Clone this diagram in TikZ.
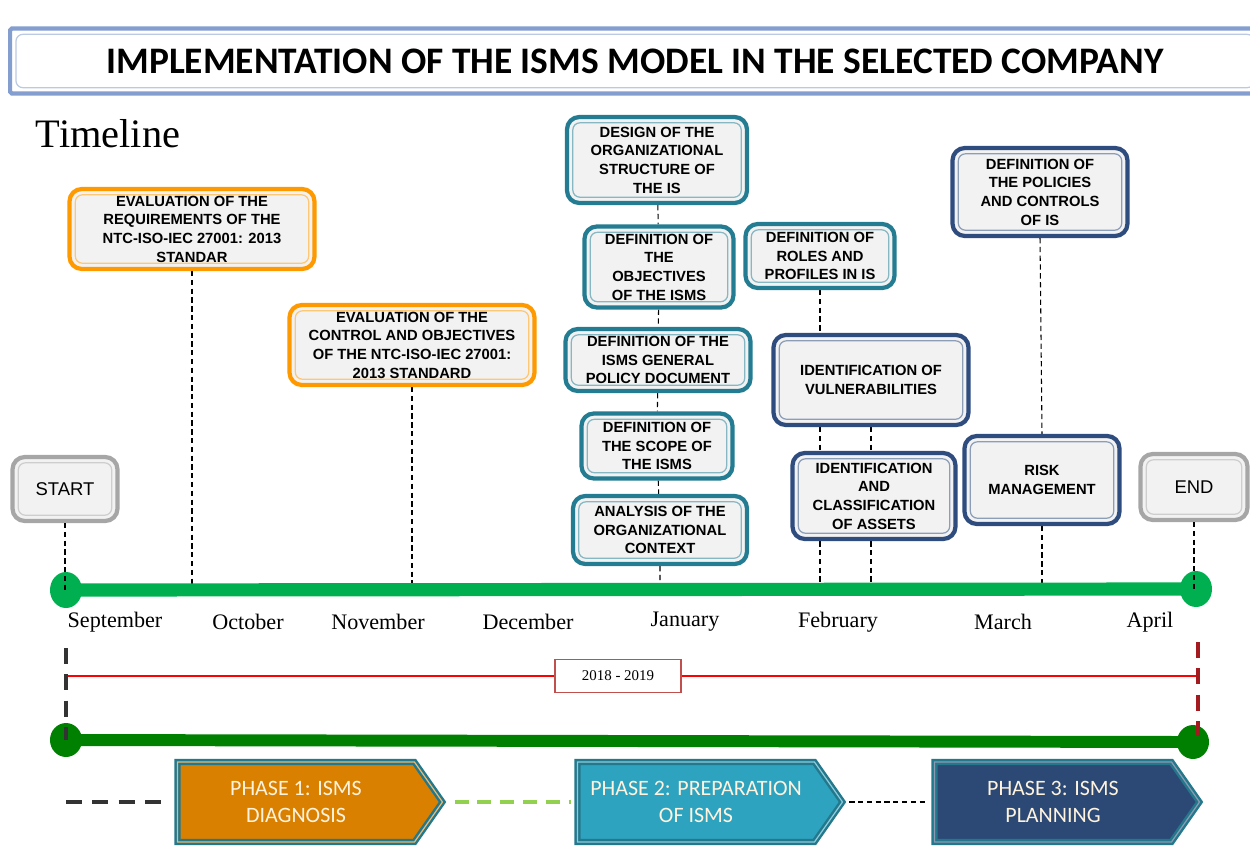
\documentclass[tikz,border=0pt]{standalone}
\usepackage{fontspec}
\setmainfont{Liberation Serif}
\setsansfont{Liberation Sans}
\newfontfamily\calibri{Carlito}
\usetikzlibrary{shapes.symbols,backgrounds}

\definecolor{boxfill}{RGB}{242,242,242}
\definecolor{evalorange}{RGB}{255,153,0}
\definecolor{prepteal}{RGB}{35,124,145}
\definecolor{plannavy}{RGB}{46,76,126}
\definecolor{markgray}{RGB}{166,166,166}
\definecolor{titleblue}{RGB}{131,158,207}
\definecolor{tlgreen}{RGB}{0,176,80}
\definecolor{tldark}{RGB}{0,128,0}
\definecolor{yearred}{RGB}{192,80,77}
\definecolor{endred}{RGB}{163,26,31}
\definecolor{diagorange}{RGB}{217,128,0}
\definecolor{preplight}{RGB}{46,163,192}
\definecolor{plandark}{RGB}{44,73,117}
\definecolor{phaseline}{RGB}{35,120,140}
\definecolor{phasetext}{RGB}{255,243,222}
\definecolor{linkgreen}{RGB}{146,208,80}

\tikzset{
  cardframe/.style={draw=#1, line width=2.4pt, rounded corners=7pt, fill=boxfill,
    path picture={\draw[#1!55, line width=0.7pt, rounded corners=4pt]
      ([shift={(3.3pt,3.3pt)}]path picture bounding box.south west) rectangle
      ([shift={(-3.3pt,-3.3pt)}]path picture bounding box.north east);}},
  task/.style={cardframe=#1, align=center, inner sep=1pt, text=black,
    font=\sffamily\bfseries\fontsize{8.4}{10.6}\selectfont},
  phasebox/.style={signal, signal to=east, signal pointer angle=110, fill=#1,
    draw=phaseline, line width=1.4pt, double=#1!55!white, double distance=0.7pt,
    minimum width=5.3cm, minimum height=1.6cm, align=center, text=phasetext,
    font=\calibri\fontsize{12.5}{15}\selectfont},
  guide/.style={line width=0.6pt, dash pattern=on 3pt off 2pt},
  month/.style={font=\fontsize{12.6}{14}\selectfont},
  bigdash/.style={line width=1.8pt, dash pattern=on 9pt off 6pt},
}

\begin{document}
\begin{tikzpicture}[x=0.02cm,y=-0.02cm]
\useasboundingbox (0,0) rectangle (1250,845);

\node[cardframe=titleblue, rounded corners=1pt, fill=white, minimum width=25cm, minimum height=1.3cm] (title) at (635,61)
  {\calibri\bfseries\fontsize{21.3}{25}\selectfont IMPLEMENTATION OF THE ISMS MODEL IN THE SELECTED COMPANY};
\node[font=\fontsize{23}{27}\selectfont] (heading) at (108,134) {Timeline};

\node[task=evalorange, minimum width=4.9cm, minimum height=1.6cm] (req) at (192,229)
  {EVALUATION OF THE\\REQUIREMENTS OF THE\\NTC-ISO-IEC 27001: 2013\\STANDAR};
\node[task=evalorange, minimum width=4.9cm, minimum height=1.6cm] (ctrl) at (412,345)
  {EVALUATION OF THE\\CONTROL AND OBJECTIVES\\OF THE NTC-ISO-IEC 27001:\\2013 STANDARD};

\node[task=prepteal, minimum width=3.6cm, minimum height=1.72cm] (design) at (657,160)
  {DESIGN OF THE\\ORGANIZATIONAL\\STRUCTURE OF\\THE IS};
\node[task=prepteal, minimum width=2.98cm, minimum height=1.62cm] (objectives) at (659,267)
  {DEFINITION OF\\THE\\OBJECTIVES\\OF THE ISMS};
\node[task=prepteal, minimum width=3.7cm, minimum height=1.24cm] (policy) at (658,360)
  {DEFINITION OF THE\\ISMS GENERAL\\POLICY DOCUMENT};
\node[task=prepteal, minimum width=3.02cm, minimum height=1.3cm] (scope) at (657,446)
  {DEFINITION OF\\THE SCOPE OF\\THE ISMS};
\node[task=prepteal, minimum width=3.48cm, minimum height=1.36cm] (context) at (660,530)
  {ANALYSIS OF THE\\ORGANIZATIONAL\\CONTEXT};
\node[task=prepteal, minimum width=2.98cm, minimum height=1.28cm] (roles) at (820,256)
  {DEFINITION OF\\ROLES AND\\PROFILES IN IS};

\node[task=plannavy, minimum width=3.9cm, minimum height=1.8cm] (vuln) at (871,380)
  {IDENTIFICATION OF\\VULNERABILITIES};
\node[task=plannavy, minimum width=3.26cm, minimum height=1.72cm] (assets) at (874,496)
  {IDENTIFICATION\\AND\\CLASSIFICATION\\OF ASSETS};
\node[task=plannavy, minimum width=3.5cm, minimum height=1.76cm] (policies) at (1040,192)
  {DEFINITION OF\\THE POLICIES\\AND CONTROLS\\OF IS};
\node[task=plannavy, minimum width=3.1cm, minimum height=1.76cm] (risk) at (1042,480)
  {RISK\\MANAGEMENT};

\node[task=markgray, minimum width=2.1cm, minimum height=1.28cm, font=\sffamily\fontsize{10.5}{12}\selectfont] (start) at (65,489) {START};
\node[task=markgray, minimum width=2.14cm, minimum height=1.32cm, font=\sffamily\fontsize{10.5}{12}\selectfont] (end) at (1194,487) {END};

\coordinate (tlA) at (66,590);
\coordinate (tlB) at (1196,589);

\begin{scope}[on background layer]
\draw[guide] (req.south) -- (req.south |- tlA);
\draw[guide] (ctrl.south) -- (ctrl.south |- tlA);
\draw[guide] (design) -- (objectives) -- (policy) -- (scope) -- (context) -- (context.south |- tlA);
\draw[guide] (roles.south) -- (roles.south |- vuln.north);
\draw[guide] (roles.south |- vuln.south) -- (roles.south |- tlA);
\draw[guide] (vuln.south) -- (vuln.south |- tlA);
\draw[guide] (policies.south) -- (risk.north);
\draw[guide] (risk.south) -- (risk.south |- tlA);
\end{scope}

\draw[tlgreen, line width=7.5pt] (tlA) -- (tlB);
\fill[tlgreen] (tlA) ellipse [x radius=0.32cm, y radius=0.36cm];
\fill[tlgreen] (tlB) ellipse [x radius=0.32cm, y radius=0.36cm];
\draw[guide] (start.south) -- (start.south |- tlA);
\draw[guide] (end.south) -- (end.south |- tlB);

\foreach \m/\x in {September/115, October/248, November/378, December/528, January/685, February/838, March/1003, April/1150}
  \node[month] (\m) at (\x,622) {\m};

\coordinate (ysA) at (66,648);
\coordinate (yeA) at (1198,642);
\coordinate (yeB) at (1198,736);
\coordinate (yA) at (66,676);
\coordinate (yB) at (1198,676);
\coordinate (tl2A) at (66,740);
\coordinate (tl2B) at (1193,742);

\node[draw=yearred, fill=white, line width=0.8pt, minimum width=2.52cm, minimum height=0.66cm, font=\fontsize{8.5}{10}\selectfont] (yr) at (618,676) {2018 - 2019};
\draw[red, line width=0.6pt] (yA) -- (yr) (yr) -- (yB);

\draw[tldark, line width=6.8pt] (tl2A) -- (tl2B);
\fill[tldark] (tl2A) ellipse [x radius=0.32cm, y radius=0.34cm];
\fill[tldark] (tl2B) ellipse [x radius=0.32cm, y radius=0.34cm];
\draw[bigdash, black!80] (ysA) -- (tl2A);
\draw[bigdash, endred] (yeA) -- (yeB);

\node[phasebox=diagorange] (p1) at (296,802) {PHASE 1: ISMS\\DIAGNOSIS};
\node[phasebox=preplight] (p2) at (696,802) {PHASE 2: PREPARATION\\OF ISMS};
\node[phasebox=plandark] (p3) at (1053,802) {PHASE 3: ISMS\\PLANNING};

\coordinate (phA) at (66,802);
\draw[bigdash, black!80, shorten >=6pt] (phA) -- (p1.west);
\draw[linkgreen, line width=1.8pt, dash pattern=on 8pt off 5pt, shorten <=6pt, shorten >=3pt] (p1.east) -- (p2.west);
\draw[guide, shorten <=3pt, shorten >=3pt] (p2.east) -- (p3.west);
\end{tikzpicture}
\end{document}
